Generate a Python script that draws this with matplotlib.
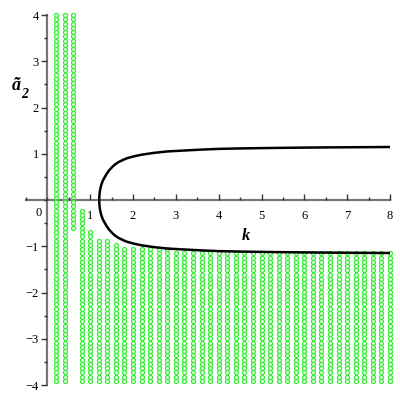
import numpy as np
import matplotlib
matplotlib.use("Agg")
import matplotlib.pyplot as plt
from matplotlib.ticker import MultipleLocator, FixedLocator

# Green sample columns: k position, lowest and highest a2 value of the filled segment
col_k = [0.2, 0.4, 0.6, 0.8, 1.0, 1.2, 1.4, 1.6, 1.8, 2.0, 2.2, 2.4, 2.6, 2.8,
         3.0, 3.2, 3.4, 3.6, 3.8, 4.0, 4.2, 4.4, 4.6, 4.8, 5.0, 5.2, 5.4, 5.6,
         5.8, 6.0, 6.2, 6.4, 6.6, 6.8, 7.0, 7.2, 7.4, 7.6, 7.8, 8.0]
col_top = [4.0, 4.0, 4.0, -0.26, -0.65, -0.84, -0.84, -0.93, -1.04, -1.04, -1.04,
           -1.04, -1.04, -1.04, -1.12, -1.12, -1.12, -1.12, -1.15, -1.15, -1.15,
           -1.15, -1.15, -1.15, -1.15, -1.15, -1.15, -1.15, -1.15, -1.15, -1.15,
           -1.15, -1.15, -1.15, -1.15, -1.15, -1.15, -1.15, -1.15, -1.15]
col_bottom = [-3.92, -3.92, -0.6] + [-3.92] * 37

# Black boundary curve (upper branch; lower branch is its mirror)
curve_k = [1.21, 1.212, 1.217, 1.225, 1.24, 1.26, 1.29, 1.33, 1.38, 1.44, 1.51,
           1.58, 1.66, 1.75, 1.85, 2.0, 2.2, 2.5, 2.8, 3.2, 3.6, 4.0, 4.5, 5.0,
           5.5, 6.0, 6.5, 7.0, 7.5, 8.0]
curve_a = [0.0, 0.07, 0.13, 0.19, 0.26, 0.33, 0.41, 0.48, 0.56, 0.64, 0.71,
           0.77, 0.82, 0.86, 0.90, 0.94, 0.98, 1.02, 1.05, 1.07, 1.09, 1.105,
           1.115, 1.122, 1.128, 1.133, 1.137, 1.140, 1.143, 1.146]

x_ticks = [1, 2, 3, 4, 5, 6, 7, 8]
y_ticks = [-4, -3, -2, -1, 1, 2, 3, 4]

fig = plt.figure(figsize=(4, 4), dpi=100)
ax = fig.add_axes([26 / 400, 15 / 400, 364 / 400, 370 / 400])
ax.set_xlim(-0.5, 8.0)
ax.set_ylim(-4, 4)

green = '#33ee33'
step = 0.092
grid_y = 4.0 - step * np.arange(0, 90)
for k, lo, hi in zip(col_k, col_bottom, col_top):
    ys = grid_y[(grid_y <= hi + 0.03) & (grid_y >= lo - 1e-9)]
    ax.plot(np.full_like(ys, k), ys, linestyle='none', marker='o', ms=2.9,
            mfc='none', mec=green, mew=0.9, zorder=2, clip_on=False)

ck = np.array(curve_k)
ca = np.array(curve_a)
ax.plot(ck, ca, color='black', lw=1.8, zorder=3, solid_capstyle='butt')
ax.plot(ck, -ca, color='black', lw=1.8, zorder=3, solid_capstyle='butt')

for s in ['top', 'right']:
    ax.spines[s].set_visible(False)
ax.spines['left'].set_position(('data', 0))
ax.spines['bottom'].set_position(('data', 0))
for s in ['left', 'bottom']:
    ax.spines[s].set_color('#777777')
    ax.spines[s].set_linewidth(1.6)
    ax.spines[s].set_zorder(1)

serif = 'Liberation Serif'
ax.xaxis.set_major_locator(FixedLocator(x_ticks))
ax.yaxis.set_major_locator(FixedLocator(y_ticks))
ax.xaxis.set_minor_locator(MultipleLocator(0.5))
ax.yaxis.set_minor_locator(MultipleLocator(0.5))
ax.set_xticklabels([str(v) for v in x_ticks], fontfamily=serif, fontsize=9)
ax.set_yticklabels([('\u2212' + str(-v)) if v < 0 else str(v) for v in y_ticks],
                   fontfamily=serif, fontsize=9)
ax.tick_params(axis='x', which='both', direction='in', color='#333333', pad=7)
ax.tick_params(axis='x', which='major', length=4, width=1)
ax.tick_params(axis='x', which='minor', length=2.5, width=1)
ax.tick_params(axis='y', which='both', direction='out', color='#333333', pad=2)
ax.tick_params(axis='y', which='major', length=4, width=1)
ax.tick_params(axis='y', which='minor', length=2.5, width=1)

ax.text(-0.2, -0.28, '0', fontfamily=serif, fontsize=9, ha='center', va='center')
ax.text(4.63, -0.78, 'k', fontfamily=serif, fontsize=12, fontweight='bold',
        fontstyle='italic', ha='center', va='center')
fig.text(16 / 400, 1 - 86 / 400, '\u00e3', fontfamily=serif, fontsize=13,
         fontweight='bold', fontstyle='italic', ha='center', va='center')
fig.text(25 / 400, 1 - 94 / 400, '2', fontfamily=serif, fontsize=10,
         fontweight='bold', fontstyle='italic', ha='center', va='center')

fig.savefig('out.png', dpi=100)
